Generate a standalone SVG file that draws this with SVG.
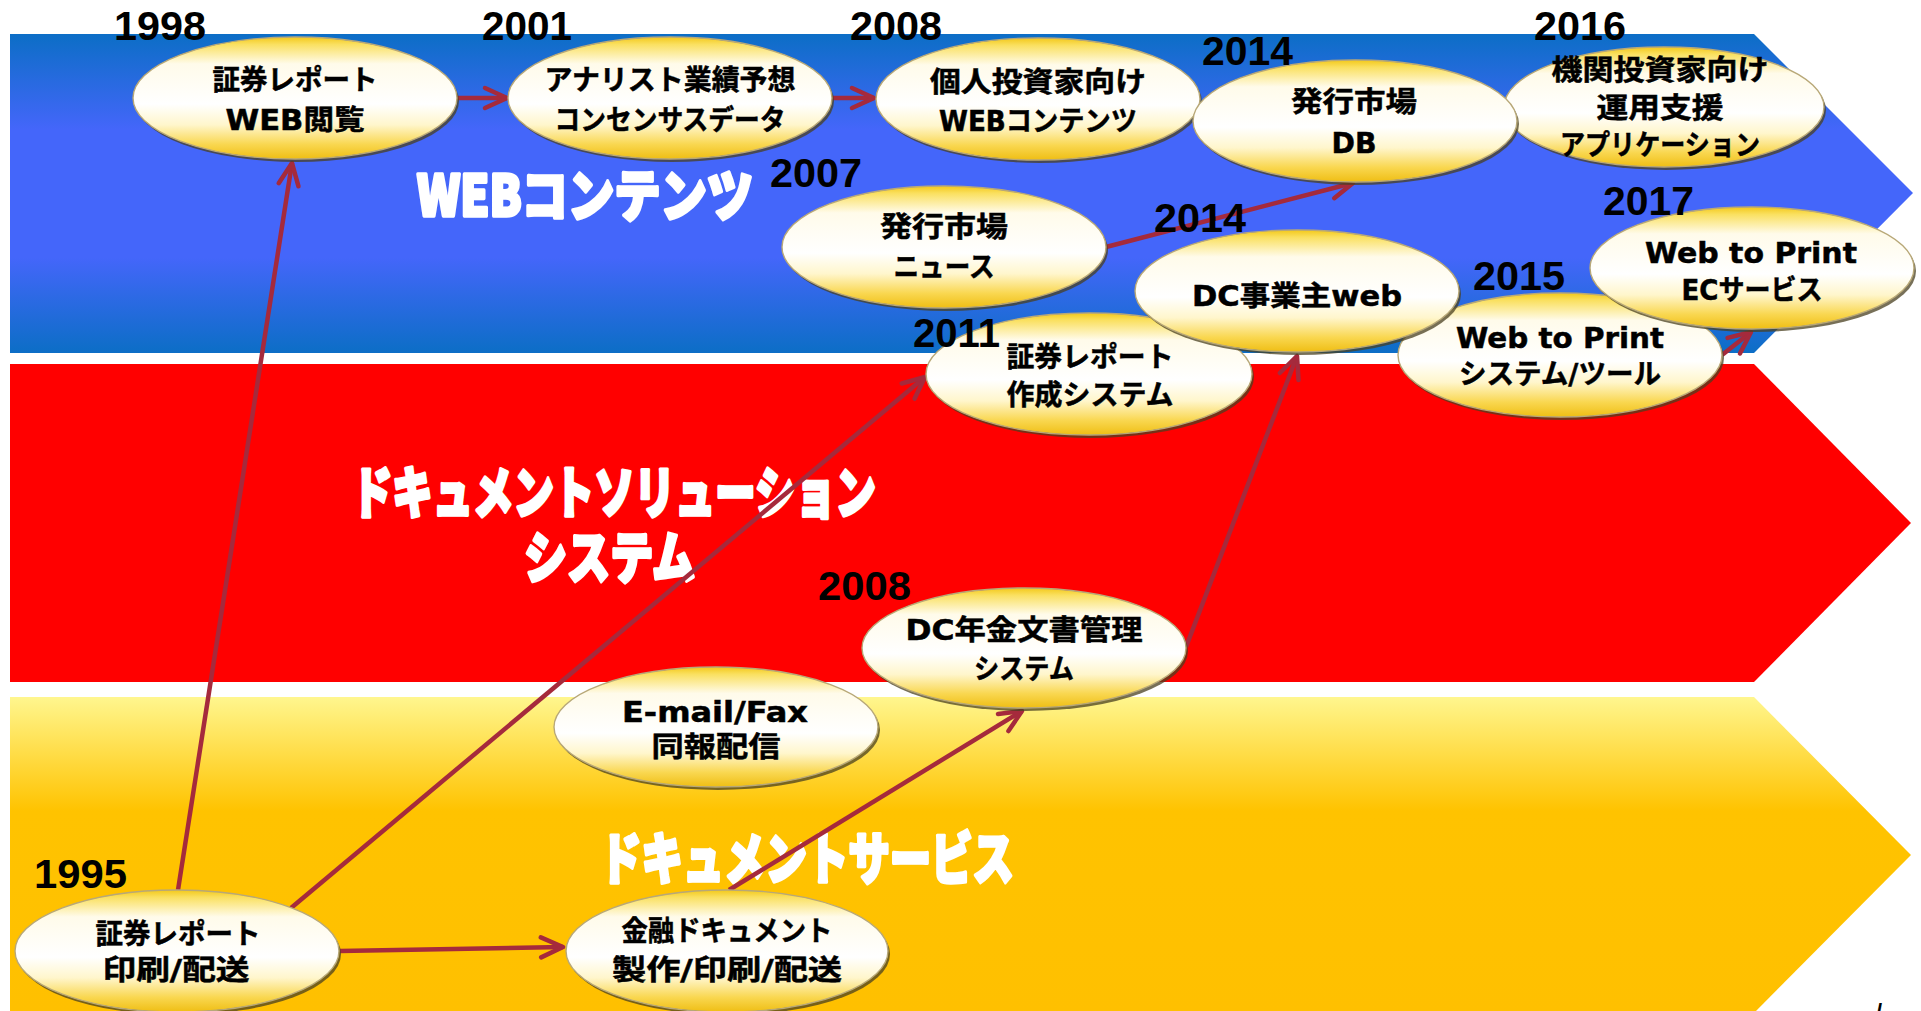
<svg xmlns="http://www.w3.org/2000/svg" width="1921" height="1011" viewBox="0 0 1921 1011">
<style>
.sh{fill:#4a4020;opacity:.75}
.el{fill:url(#eg);stroke:#b8a878;stroke-width:1.4}
.nt{font-family:"DejaVu Sans","Noto Sans CJK JP",sans-serif;font-weight:bold;font-size:28px;text-anchor:middle;fill:#000;stroke:#000;stroke-width:0.5}
.yr{font-family:"Liberation Sans",Arial,sans-serif;font-weight:bold;font-size:40px;fill:#000}
.bl{font-family:"Noto Sans CJK JP",sans-serif;font-weight:900;font-size:56px;fill:#fff;stroke:#fff;stroke-width:3.5;stroke-linejoin:round}
.cn{fill:none;stroke:#a52a3c;stroke-width:4.5;marker-end:url(#ah)}
</style>
<defs>
<linearGradient id="gb" x1="0" y1="0" x2="0" y2="1">
<stop offset="0" stop-color="#0c6ec6"/><stop offset="0.3" stop-color="#4466fa"/><stop offset="0.7" stop-color="#4466fa"/><stop offset="1" stop-color="#0c6ec6"/>
</linearGradient>
<linearGradient id="gy" x1="0" y1="0" x2="0" y2="1">
<stop offset="0" stop-color="#fff68e"/><stop offset="0.36" stop-color="#ffc300"/><stop offset="1" stop-color="#ffc000"/>
</linearGradient>
<linearGradient id="eg" x1="0" y1="0" x2="0" y2="1">
<stop offset="0" stop-color="#f3c81a"/><stop offset="0.06" stop-color="#fae060"/><stop offset="0.22" stop-color="#fffbea"/><stop offset="0.55" stop-color="#ffffff"/><stop offset="0.72" stop-color="#fff6cc"/><stop offset="0.88" stop-color="#f9d750"/><stop offset="1" stop-color="#efbe14"/>
</linearGradient>
<marker id="ah" markerUnits="userSpaceOnUse" viewBox="0 0 28 26" markerWidth="28" markerHeight="26" refX="25" refY="13" orient="auto">
<path d="M3,3 L25,13 L3,23" fill="none" stroke="#a52a3c" stroke-width="4.5" stroke-linecap="round" stroke-linejoin="round"/>
</marker>
</defs>
<rect width="1921" height="1011" fill="#fff"/>
<g id="bands">
<polygon points="10,34 1754,34 1913,193 1754,353 10,353" fill="url(#gb)"/>
<polygon points="10,364 1754,364 1911,523 1754,682 10,682" fill="#ff0000"/>
<polygon points="10,697 1754,697 1911,855 1754,1013 10,1013" fill="url(#gy)"/>
<text class="bl" x="417" y="216" textLength="336" lengthAdjust="spacingAndGlyphs">WEBコンテンツ</text>
<text class="bl" x="352" y="513" textLength="524" lengthAdjust="spacingAndGlyphs">ドキュメントソリューション</text>
<text class="bl" x="524" y="578" textLength="171" lengthAdjust="spacingAndGlyphs">システム</text>
<text class="bl" x="600" y="879" textLength="414" lengthAdjust="spacingAndGlyphs">ドキュメントサービス</text>
</g>
<g id="connectors">
<line class="cn" x1="457" y1="98" x2="507" y2="98"/>
<line class="cn" x1="832" y1="98" x2="874" y2="98"/>
<line class="cn" x1="178" y1="890" x2="292" y2="163"/>
<line class="cn" x1="291" y1="908" x2="925" y2="377"/>
<line class="cn" x1="340" y1="951" x2="563" y2="947"/>
<line class="cn" x1="729" y1="890" x2="1022" y2="711"/>
<line class="cn" x1="1186" y1="647" x2="1297" y2="356"/>
<line class="cn" x1="1106" y1="247" x2="1353" y2="183"/>
<line class="cn" x1="1722" y1="355" x2="1751" y2="332"/>
</g>
<g id="n1998">
<ellipse class="sh" cx="297" cy="101" rx="162" ry="61"/><ellipse class="el" cx="295" cy="98" rx="162" ry="61"/>
<text class="yr" x="114" y="40" textLength="92" lengthAdjust="spacingAndGlyphs">1998</text>
<text class="nt" x="295" y="90" textLength="165" lengthAdjust="spacingAndGlyphs">証券レポート</text>
<text class="nt" x="295" y="130" textLength="139" lengthAdjust="spacingAndGlyphs">WEB閲覧</text>
</g>
<g id="n2001">
<ellipse class="sh" cx="672" cy="101" rx="162" ry="61"/><ellipse class="el" cx="670" cy="98" rx="162" ry="61"/>
<text class="yr" x="482" y="40" textLength="90" lengthAdjust="spacingAndGlyphs">2001</text>
<text class="nt" x="670" y="90" textLength="251" lengthAdjust="spacingAndGlyphs">アナリスト業績予想</text>
<text class="nt" x="670" y="130" textLength="231" lengthAdjust="spacingAndGlyphs">コンセンサスデータ</text>
</g>
<g id="n2008a">
<ellipse class="sh" cx="1040" cy="102" rx="162" ry="61"/><ellipse class="el" cx="1038" cy="99" rx="162" ry="61"/>
<text class="yr" x="850" y="40" textLength="92" lengthAdjust="spacingAndGlyphs">2008</text>
<text class="nt" x="1038" y="92" textLength="216" lengthAdjust="spacingAndGlyphs">個人投資家向け</text>
<text class="nt" x="1038" y="131" textLength="198" lengthAdjust="spacingAndGlyphs">WEBコンテンツ</text>
</g>
<g id="n2016">
<ellipse class="sh" cx="1666" cy="110" rx="160" ry="60"/><ellipse class="el" cx="1664" cy="107" rx="160" ry="60"/>
<text class="yr" x="1534" y="40" textLength="92" lengthAdjust="spacingAndGlyphs">2016</text>
<text class="nt" x="1660" y="80" textLength="217" lengthAdjust="spacingAndGlyphs">機関投資家向け</text>
<text class="nt" x="1660" y="118" textLength="127" lengthAdjust="spacingAndGlyphs">運用支援</text>
<text class="nt" x="1660" y="155" textLength="200" lengthAdjust="spacingAndGlyphs">アプリケーション</text>
</g>
<g id="n2014a">
<ellipse class="sh" cx="1357" cy="124" rx="162" ry="61"/><ellipse class="el" cx="1355" cy="121" rx="162" ry="61"/>
<text class="yr" x="1202" y="65" textLength="91" lengthAdjust="spacingAndGlyphs">2014</text>
<text class="nt" x="1354" y="112" textLength="126" lengthAdjust="spacingAndGlyphs">発行市場</text>
<text class="nt" x="1354" y="153" textLength="45" lengthAdjust="spacingAndGlyphs">DB</text>
</g>
<g id="n2007">
<ellipse class="sh" cx="946" cy="250" rx="162" ry="61"/><ellipse class="el" cx="944" cy="247" rx="162" ry="61"/>
<text class="yr" x="770" y="187" textLength="92" lengthAdjust="spacingAndGlyphs">2007</text>
<text class="nt" x="944" y="237" textLength="128" lengthAdjust="spacingAndGlyphs">発行市場</text>
<text class="nt" x="944" y="277" textLength="101" lengthAdjust="spacingAndGlyphs">ニュース</text>
</g>
<g id="n2011">
<ellipse class="sh" cx="1091" cy="377" rx="163" ry="61"/><ellipse class="el" cx="1089" cy="374" rx="163" ry="61"/>
<text class="yr" x="913" y="347" textLength="87" lengthAdjust="spacingAndGlyphs">2011</text>
<text class="nt" x="1090" y="367" textLength="167" lengthAdjust="spacingAndGlyphs">証券レポート</text>
<text class="nt" x="1090" y="405" textLength="167" lengthAdjust="spacingAndGlyphs">作成システム</text>
</g>
<g id="n2015">
<ellipse class="sh" cx="1562" cy="358" rx="162" ry="62"/><ellipse class="el" cx="1560" cy="355" rx="162" ry="62"/>
<text class="yr" x="1473" y="290" textLength="92" lengthAdjust="spacingAndGlyphs">2015</text>
<text class="nt" x="1560" y="348" textLength="208" lengthAdjust="spacingAndGlyphs">Web to Print</text>
<text class="nt" x="1560" y="384" textLength="202" lengthAdjust="spacingAndGlyphs">システム/ツール</text>
</g>
<g id="n2014b">
<ellipse class="sh" cx="1299" cy="294" rx="162" ry="61"/><ellipse class="el" cx="1297" cy="291" rx="162" ry="61"/>
<text class="yr" x="1154" y="232" textLength="92" lengthAdjust="spacingAndGlyphs">2014</text>
<text class="nt" x="1297" y="306" textLength="210" lengthAdjust="spacingAndGlyphs">DC事業主web</text>
</g>
<g id="n2017">
<ellipse class="sh" cx="1754" cy="271" rx="162" ry="61"/><ellipse class="el" cx="1752" cy="268" rx="162" ry="61"/>
<text class="yr" x="1603" y="215" textLength="91" lengthAdjust="spacingAndGlyphs">2017</text>
<text class="nt" x="1751" y="263" textLength="212" lengthAdjust="spacingAndGlyphs">Web to Print</text>
<text class="nt" x="1752" y="300" textLength="141" lengthAdjust="spacingAndGlyphs">ECサービス</text>
</g>
<g id="n2008b">
<ellipse class="sh" cx="1026" cy="651" rx="162" ry="60"/><ellipse class="el" cx="1024" cy="648" rx="162" ry="60"/>
<text class="yr" x="818" y="600" textLength="93" lengthAdjust="spacingAndGlyphs">2008</text>
<text class="nt" x="1024" y="640" textLength="237" lengthAdjust="spacingAndGlyphs">DC年金文書管理</text>
<text class="nt" x="1024" y="679" textLength="100" lengthAdjust="spacingAndGlyphs">システム</text>
</g>
<g id="nmail">
<ellipse class="sh" cx="718" cy="730" rx="162" ry="60"/><ellipse class="el" cx="716" cy="727" rx="162" ry="60"/>
<text class="nt" x="715" y="722" textLength="186" lengthAdjust="spacingAndGlyphs">E-mail/Fax</text>
<text class="nt" x="716" y="757" textLength="129" lengthAdjust="spacingAndGlyphs">同報配信</text>
</g>
<g id="n1995">
<ellipse class="sh" cx="179" cy="954" rx="162" ry="61"/><ellipse class="el" cx="177" cy="951" rx="162" ry="61"/>
<text class="yr" x="34" y="888" textLength="93" lengthAdjust="spacingAndGlyphs">1995</text>
<text class="nt" x="178" y="944" textLength="165" lengthAdjust="spacingAndGlyphs">証券レポート</text>
<text class="nt" x="176" y="980" textLength="147" lengthAdjust="spacingAndGlyphs">印刷/配送</text>
</g>
<g id="nkinyu">
<ellipse class="sh" cx="729" cy="954" rx="161" ry="61"/><ellipse class="el" cx="727" cy="951" rx="161" ry="61"/>
<text class="nt" x="727" y="941" textLength="211" lengthAdjust="spacingAndGlyphs">金融ドキュメント</text>
<text class="nt" x="727" y="980" textLength="230" lengthAdjust="spacingAndGlyphs">製作/印刷/配送</text>
</g>
<text x="1876" y="1019" font-family="Liberation Sans,sans-serif" font-size="22" font-weight="bold" fill="#000">/</text>
</svg>
